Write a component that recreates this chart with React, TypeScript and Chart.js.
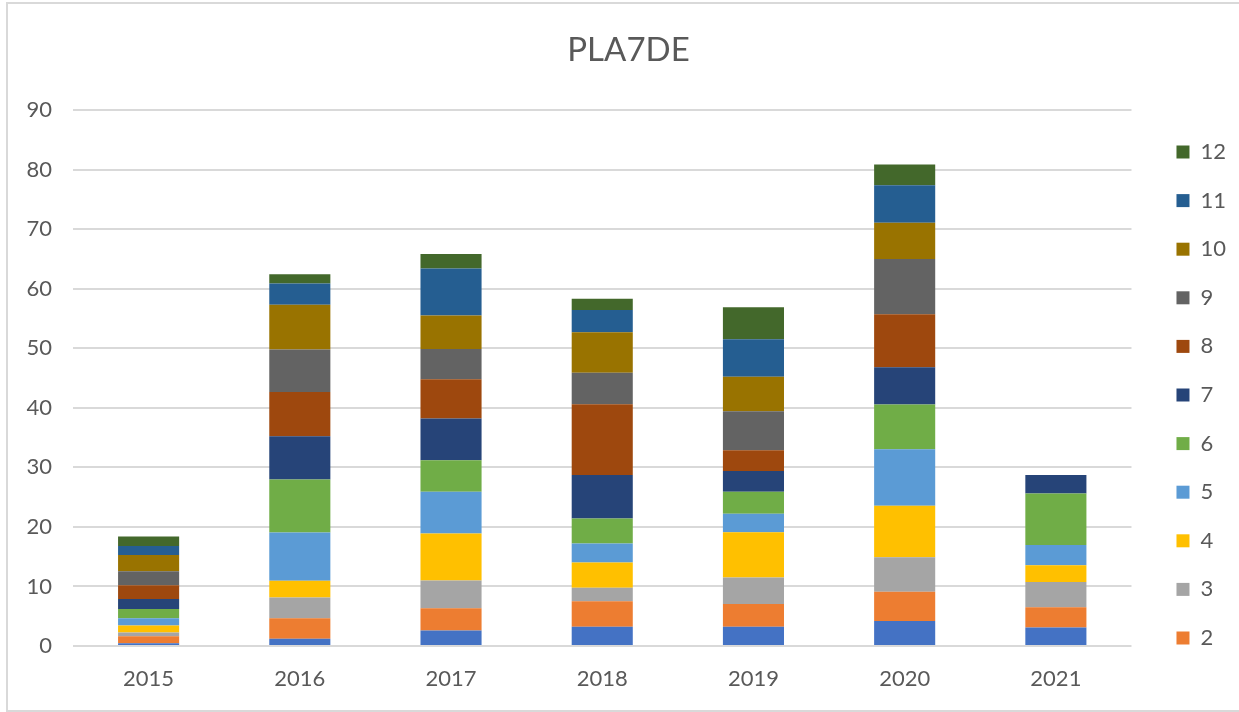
import React, { useEffect, useRef } from "react";
import { Chart, registerables } from "chart.js";

Chart.register(...registerables);

const categories = ["2015", "2016", "2017", "2018", "2019", "2020", "2021"];

const seriesNames = ["1", "2", "3", "4", "5", "6", "7", "8", "9", "10", "11", "12"];

const s1 = [0.45, 1.2, 2.6, 3.25, 3.25, 4.2, 3.1];
const s2 = [1.2, 3.45, 3.75, 4.25, 3.8, 4.9, 3.4];
const s3 = [0.6, 3.5, 4.65, 2.3, 4.45, 5.8, 4.25];
const s4 = [1.2, 2.8, 7.9, 4.2, 7.6, 8.65, 2.8];
const s5 = [1.2, 8.1, 7.0, 3.2, 3.1, 9.5, 3.4];
const s6 = [1.55, 8.9, 5.3, 4.2, 3.7, 7.5, 8.65];
const s7 = [1.7, 7.25, 7.0, 7.3, 3.5, 6.25, 3.1];
const s8 = [2.3, 7.45, 6.6, 11.9, 3.45, 8.9, 0];
const s9 = [2.35, 7.15, 5.05, 5.3, 6.55, 9.3, 0];
const s10 = [2.75, 7.5, 5.65, 6.8, 5.8, 6.05, 0];
const s11 = [1.5, 3.55, 7.9, 3.7, 6.3, 6.3, 0];
const s12 = [1.6, 1.55, 2.4, 1.9, 5.4, 3.5, 0];

const seriesValues = [s1, s2, s3, s4, s5, s6, s7, s8, s9, s10, s11, s12];

const seriesColors = [
  "#4472C4",
  "#ED7D31",
  "#A5A5A5",
  "#FFC000",
  "#5B9BD5",
  "#70AD47",
  "#264478",
  "#9E480E",
  "#636363",
  "#997300",
  "#255E91",
  "#43682B",
];

const yTicks = [0, 10, 20, 30, 40, 50, 60, 70, 80, 90];

const chartTitle = "PLA7DE";

const FONT = "Lato, 'Open Sans', sans-serif";
const TEXT = "#595959";

const titlePlugin = {
  id: "excelTitle",
  afterDraw(chart: any) {
    const ctx = chart.ctx;
    ctx.save();
    ctx.font = `normal 33px ${FONT}`;
    ctx.fillStyle = TEXT;
    ctx.textAlign = "center";
    ctx.textBaseline = "middle";
    ctx.fillText(chartTitle, 628.5, 50.5);
    ctx.restore();
  },
};

export default function App() {
  const ref = useRef<HTMLCanvasElement | null>(null);

  useEffect(() => {
    document.body.style.margin = "0";
    const canvas = ref.current;
    if (!canvas) return;
    const chart = new Chart(canvas, {
      type: "bar",
      data: {
        labels: categories,
        datasets: seriesNames.map((name, i) => ({
          label: name,
          data: seriesValues[i],
          backgroundColor: seriesColors[i],
          borderWidth: 0,
          barPercentage: 0.404,
          categoryPercentage: 1,
        })),
      },
      plugins: [titlePlugin],
      options: {
        animation: false,
        responsive: false,
        maintainAspectRatio: false,
        layout: { padding: { left: 0, right: 3, top: 110, bottom: 20 } },
        plugins: {
          title: { display: false },
          legend: {
            position: "right",
            align: "start",
            reverse: true,
            title: {
              display: true,
              text: "",
              font: { size: 4, lineHeight: 1 },
              padding: { top: 0.4, bottom: 0 },
            },
            labels: {
              boxWidth: 13,
              boxHeight: 13,
              padding: 26.6,
              color: TEXT,
              font: { family: FONT, size: 22, lineHeight: 1 },
              filter: (item) => item.text !== "1",
            },
          },
          tooltip: { enabled: false },
        },
        scales: {
          x: {
            stacked: true,
            grid: { display: false, drawTicks: false },
            border: { display: false },
            ticks: {
              color: TEXT,
              padding: 20,
              font: { family: FONT, size: 22 },
              maxRotation: 0,
            },
            afterFit: (s: any) => {
              s.height = 46;
            },
          },
          y: {
            stacked: true,
            min: 0,
            max: 90,
            grid: { color: "#d9d9d9", lineWidth: 2, drawTicks: false },
            border: { display: false },
            afterBuildTicks: (s: any) => {
              s.ticks = yTicks.map((v) => ({ value: v }));
            },
            ticks: {
              color: TEXT,
              padding: 21,
              font: { family: FONT, size: 22 },
            },
            afterFit: (s: any) => {
              s.width = 73;
            },
          },
          yRight: {
            position: "right",
            display: true,
            grid: { display: false, drawTicks: false },
            border: { display: false },
            ticks: { display: false },
            afterFit: (s: any) => {
              s.width = 18.4;
            },
          },
        },
      },
    });
    return () => chart.destroy();
  }, []);

  return (
    <div style={{ position: "absolute", left: 0, top: 0, width: 1239, height: 712, background: "#fff", overflow: "hidden" }}>
      <canvas ref={ref} width={1239} height={712} style={{ position: "absolute", left: 0, top: 0 }} />
      <div
        style={{
          position: "absolute",
          left: 6,
          top: 2,
          width: 1240,
          height: 706,
          borderLeft: "2px solid #d9d9d9",
          borderTop: "2px solid #d9d9d9",
          borderBottom: "2px solid #d9d9d9",
          pointerEvents: "none",
        }}
      />
    </div>
  );
}
